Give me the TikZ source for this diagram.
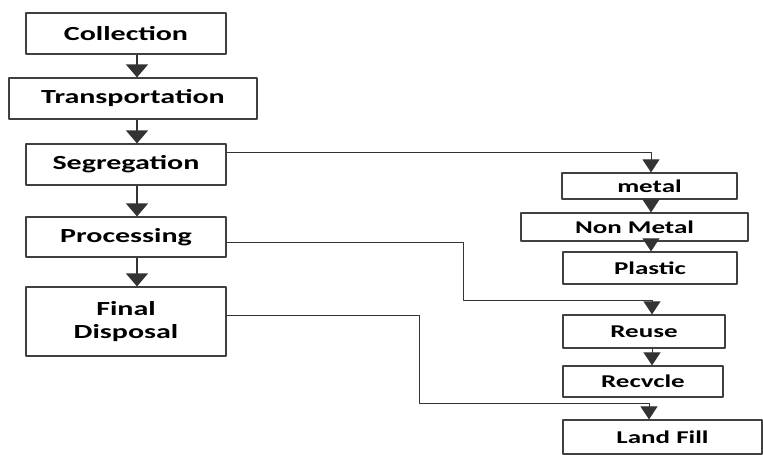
\documentclass[tikz,border=0pt]{standalone}
\usepackage{fontspec}
\setmainfont{Carlito}[FakeStretch=1.5]
\usetikzlibrary{arrows.meta}
\begin{document}
\begin{tikzpicture}[x=1pt,y=-1pt,line join=round,
  box/.style={draw=black!75,line width=1.2pt,inner sep=0pt,align=center,
    font=\fontsize{20}{23}\selectfont\bfseries},
  rbox/.style={box,font=\fontsize{18}{21}\selectfont\bfseries},
  arr/.style={draw=black!80,line width=1.2pt,-{Triangle[width=22pt,length=13pt]}},
  rarr/.style={draw=black!80,line width=1pt,-{Triangle[width=17pt,length=13pt]}}]
\useasboundingbox (0,0) rectangle (763,455);
% main chain
\node[box,minimum width=200pt,minimum height=41pt] (coll) at (126,33.5) {Collection};
\node[box,minimum width=248pt,minimum height=41pt] (trans) at (133,98.5) {Transportation};
\node[box,minimum width=200pt,minimum height=41pt] (seg) at (126,164.5) {Segregation};
\node[box,minimum width=200pt,minimum height=40pt] (proc) at (126,237) {Processing};
\node[box,minimum width=200pt,minimum height=69pt] (fin) at (126,321.5) {Final\\Disposal};
% right column
\node[rbox,minimum width=175pt,minimum height=26pt] (metal) at (649.5,186) {metal};
\node[rbox,minimum width=227pt,minimum height=28pt] (nonm) at (634.5,227) {Non Metal};
\node[rbox,minimum width=174pt,minimum height=32pt] (plast) at (650,268) {Plastic};
\node[rbox,minimum width=162pt,minimum height=33pt] (reuse) at (644,331.5) {Reuse};
\node[rbox,minimum width=160pt,minimum height=31pt] (recyc) at (643,381.5) {Recvcle};
\node[rbox,minimum width=199pt,minimum height=34pt] (land) at (662.5,437) {Land Fill};
\coordinate (pbend) at (463,300);
\coordinate (fbend) at (419,403);
% arrows
\draw[arr] ([xshift=11pt]coll.south) -- ([xshift=11pt]coll.south |- trans.north);
\draw[arr] ([xshift=11pt]seg.north |- trans.south) -- ([xshift=11pt]seg.north);
\draw[arr] ([xshift=11pt]seg.south) -- ([xshift=11pt]proc.north);
\draw[arr] ([xshift=11pt]proc.south) -- ([xshift=11pt]fin.north);
\draw[rarr] ([xshift=1.5pt]metal.south) -- ([xshift=1.5pt]metal.south |- nonm.north);
\draw[rarr] ([xshift=1pt]plast.north |- nonm.south) -- ([xshift=1pt]plast.north);
\draw[rarr] ([xshift=8pt]reuse.south) -- ([xshift=8pt]reuse.south |- recyc.north);
\draw[rarr] ([yshift=12.5pt]seg.east) -| ([xshift=1.5pt]metal.north);
\draw[rarr] ([yshift=-5pt]proc.east) -| (pbend) -| ([xshift=8pt]reuse.north);
\draw[rarr] ([yshift=6.5pt]fin.east) -| (fbend) -| ([xshift=-13.5pt]land.north);
\end{tikzpicture}
\end{document}
